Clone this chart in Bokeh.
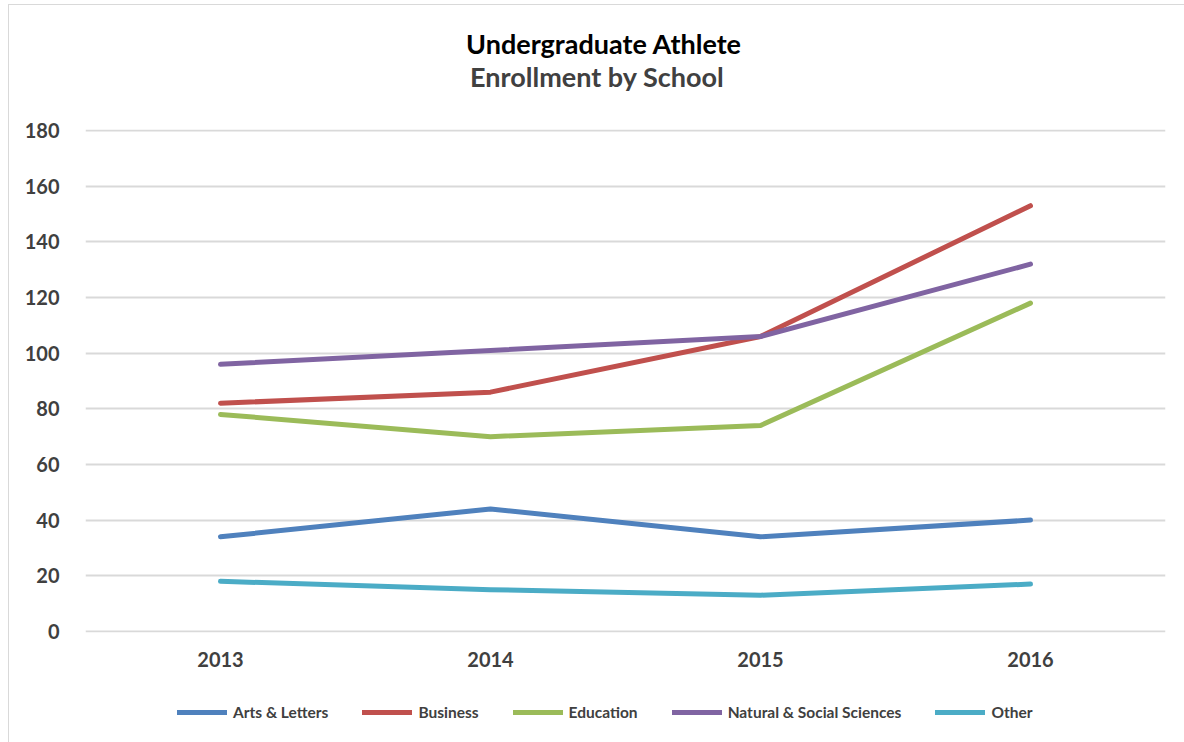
from bokeh.plotting import figure
from bokeh.models import FactorRange, Range1d, FixedTicker, Legend, Label
from bokeh.layouts import column
from bokeh.embed import file_html
from bokeh.resources import INLINE

years = ["2013", "2014", "2015", "2016"]
arts = [34, 44, 34, 40]
business = [82, 86, 106, 153]
education = [78, 70, 74, 118]
natural = [96, 101, 106, 132]
other = [18, 15, 13, 17]
series_names = ["Arts & Letters", "Business", "Education", "Natural & Social Sciences", "Other"]
series_values = [arts, business, education, natural, other]
colors = ["#4F81BD", "#C0504D", "#9BBB59", "#8064A2", "#4BACC6"]
y_ticks = [0, 20, 40, 60, 80, 100, 120, 140, 160, 180]
title_main = "Undergraduate Athlete"
title_sub = "Enrollment by  School"

FONT = "Lato"
W = 1175
H_TOP = 105
H_MAIN = 570
H_BOT = 62
BL, BR = 76, 19   # left / right borders shared by all strips (frames are aligned)


def bare(fig):
    fig.xaxis.visible = False
    fig.yaxis.visible = False
    fig.grid.visible = False
    fig.outline_line_color = None
    fig.background_fill_color = "white"
    fig.border_fill_color = "white"


# ---- title strip (ranges in page pixels) ----
p_top = figure(width=W, height=H_TOP, x_range=Range1d(85, 1165), y_range=Range1d(110, 5),
               output_backend="svg", toolbar_location=None,
               min_border_left=BL, min_border_right=BR, min_border_top=0, min_border_bottom=0)
bare(p_top)
p_top.add_layout(Label(x=603.5, y=43, text=title_main, text_align="center",
                       text_baseline="alphabetic", text_font=FONT, text_font_size="27px",
                       text_font_style="bold", text_color="black"))
p_top.add_layout(Label(x=600, y=76, text=title_sub, text_align="center",
                       text_baseline="alphabetic", text_font=FONT, text_font_size="27px",
                       text_font_style="bold", text_color="#404040"))

# ---- main chart ----
p = figure(width=W, height=H_MAIN, x_range=FactorRange(factors=years),
           y_range=Range1d(-0.4, 180.4), output_backend="svg", toolbar_location=None,
           min_border_left=BL, min_border_right=BR, min_border_top=19, min_border_bottom=48)
p.outline_line_color = None
p.background_fill_color = "white"
p.border_fill_color = "white"

for name, vals, c in zip(series_names, series_values, colors):
    p.line(x=years, y=vals, line_color=c, line_width=5, line_cap="round", line_join="round")

p.yaxis.ticker = FixedTicker(ticks=y_ticks)
for ax in (p.xaxis, p.yaxis):
    ax.axis_line_color = None
    ax.major_tick_line_color = None
    ax.minor_tick_line_color = None
    ax.major_label_text_font = FONT
    ax.major_label_text_font_size = "20px"
    ax.major_label_text_font_style = "bold"
    ax.major_label_text_color = "#404040"
p.yaxis.major_label_standoff = 20
p.xaxis.major_label_standoff = 13
p.xgrid.grid_line_color = None
p.ygrid.grid_line_color = "#D9D9D9"
p.ygrid.grid_line_width = 2

# ---- legend strip: same series drawn outside its visible y range, so only the legend shows ----
p_bot = figure(width=W, height=H_BOT, x_range=FactorRange(factors=years), y_range=Range1d(-2, -1),
               output_backend="svg", toolbar_location=None,
               min_border_left=BL, min_border_right=BR, min_border_top=0, min_border_bottom=0)
bare(p_bot)
items = []
for name, vals, c in zip(series_names, series_values, colors):
    r = p_bot.line(x=years, y=vals, line_color=c, line_width=5, line_cap="round")
    items.append((name, [r]))
legend = Legend(items=items, orientation="horizontal", location=(92, 20),
                label_text_font=FONT, label_text_font_size="15.5px", label_text_font_style="bold",
                label_text_color="#404040", glyph_width=50, glyph_height=20, label_standoff=6,
                spacing=34, border_line_color=None, background_fill_alpha=0, padding=0, margin=0)
p_bot.add_layout(legend, "center")

layout = column(p_top, p, p_bot, spacing=0)
layout.styles = {"border-left": "1px solid #D9D9D9", "border-top": "1px solid #D9D9D9",
                 "margin-left": "8px", "margin-top": "4px"}

open("out.html", "w").write(file_html(layout, INLINE))
